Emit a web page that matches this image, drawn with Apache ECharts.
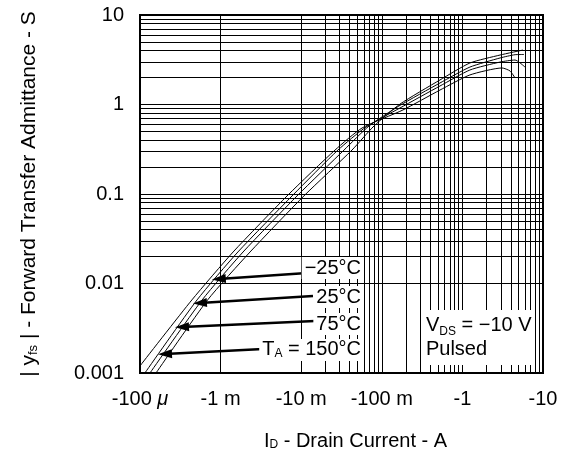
<!DOCTYPE html>
<html>
<head>
  <meta charset="UTF-8">
  <script src="https://cdn.jsdelivr.net/npm/echarts@6.0.0/dist/echarts.min.js"></script>
  <style>
    html, body { margin: 0; padding: 0; background: #fff; }
    #chart { width: 569px; height: 457px; }
  </style>
</head>
<body>
<div id="chart"></div>
<script type="text/javascript">
  var FONT = '"Liberation Sans", Arial, sans-serif';

  // axis tick labels (one per decade)
  var xTickLabels = ['-100 {mu|\u03bc}', '-1 m', '-10 m', '-100 m', '-1', '-10'];
  var yTickLabels = ['0.001', '0.01', '0.1', '1', '10'];

  // curves: |ID| (A) and |yfs| (S)
  var idM25   = [1.58e-4, 6.9e-4, 2.32e-3, 0.0111, 0.0427, 0.080, 0.168, 0.527, 1.24, 2.93, 5.65];
  var yfsM25  = [0.001, 0.00655, 0.0225, 0.0975, 0.31, 0.575, 1.01, 1.88, 2.91, 3.57, 4.06];
  var idP25   = [1.33e-4, 5.9e-4, 1.90e-3, 9.12e-3, 0.034, 0.0694, 0.163, 0.527, 1.24, 2.93, 4.5, 5.81];
  var yfsP25  = [0.001, 0.00655, 0.0225, 0.0975, 0.31, 0.575, 0.962, 1.74, 2.62, 3.31, 3.6, 3.62];
  var idP75   = [1.15e-4, 5.1e-4, 1.64e-3, 7.91e-3, 0.0286, 0.0637, 0.168, 0.527, 1.24, 2.93, 4.5, 5.98];
  var yfsP75  = [0.001, 0.00655, 0.0225, 0.0975, 0.31, 0.561, 0.914, 1.61, 2.43, 2.98, 3.14, 2.62];
  var idP150  = [1.0e-4, 4.4e-4, 1.43e-3, 6.86e-3, 0.0263, 0.0568, 0.183, 0.527, 1.24, 3.10, 3.9, 4.5];
  var yfsP150 = [0.0012, 0.00655, 0.0225, 0.0975, 0.31, 0.546, 0.869, 1.45, 2.14, 2.56, 2.37, 1.98];

  // annotations (data coordinates)
  var tempLabels = ['\u221225\u00b0C', '25\u00b0C', '75\u00b0C', 'T{s|A} = 150\u00b0C'];
  var tempLabelAt = [[0.0585, 0.0149], [0.0585, 0.00706], [0.0585, 0.00352], [0.0585, 0.00181]];
  var arrowFrom = [[0.0118, 0.0131], [0.014, 0.00724], [0.0148, 0.00381], [0.00336, 0.00185]];
  var arrowTo   = [[9.5e-4, 0.0112], [5.54e-4, 0.00605], [3.32e-4, 0.00327], [2.04e-4, 0.00163]];
  var condAt = [0.324, 0.00506];

  function pairs(xs, ys) {
    return xs.map(function (x, i) { return [x, ys[i]]; });
  }

  // minor log grid lines (2..9 in each decade)
  var minorX = [], minorY = [];
  for (var e = -4; e < 1; e++) for (var k = 2; k < 10; k++) minorX.push(k * Math.pow(10, e));
  for (var e2 = -3; e2 < 1; e2++) for (var k2 = 2; k2 < 10; k2++) minorY.push(k2 * Math.pow(10, e2));
  var gridLines = minorX.map(function (v) { return {xAxis: v}; })
    .concat(minorY.map(function (v) { return {yAxis: v}; }));

  var curveStyle = {color: '#000', width: 1};
  function curve(name, xs, ys) {
    return {
      name: name, type: 'line', data: pairs(xs, ys), smooth: 0.2,
      showSymbol: false, symbol: 'none', lineStyle: curveStyle, z: 5, silent: true
    };
  }

  var chart = echarts.init(document.getElementById('chart'));
  var option = {
    animation: false,
    grid: {left: 140, right: 26, top: 15, bottom: 84, show: true, borderColor: '#000', borderWidth: 2,
      containLabel: false, outerBoundsMode: 'none'},
    xAxis: {
      type: 'log', logBase: 10, min: 1e-4, max: 10,
      name: '{a|I}{s|D}{a| - Drain Current - A}', nameLocation: 'middle', nameGap: 58,
      nameTextStyle: {padding: [0, 0, 0, 28], rich: {
        a: {fontSize: 20, fontFamily: FONT, color: '#000'},
        s: {fontSize: 12, fontFamily: FONT, color: '#000', verticalAlign: 'bottom'}
      }},
      axisLine: {show: true, lineStyle: {color: '#000', width: 2}},
      axisTick: {show: false},
      splitLine: {show: true, lineStyle: {color: '#000', width: 1}},
      axisLabel: {
        margin: 16, fontSize: 20, fontFamily: FONT, color: '#000',
        formatter: function (v) { return xTickLabels[Math.round(Math.log10(v)) + 4]; },
        rich: {mu: {fontSize: 20, fontFamily: FONT, fontStyle: 'italic', color: '#000'}}
      }
    },
    yAxis: {
      type: 'log', logBase: 10, min: 0.001, max: 10,
      name: '| y{s|fs} | - Forward Transfer Admittance - S', nameLocation: 'middle', nameGap: 100,
      nameTextStyle: {fontSize: 21, fontFamily: FONT, color: '#000', rich: {
        s: {fontSize: 13, fontFamily: FONT, color: '#000', verticalAlign: 'bottom'}
      }},
      axisLine: {show: true, lineStyle: {color: '#000', width: 2}},
      axisTick: {show: false},
      splitLine: {show: true, lineStyle: {color: '#000', width: 1}},
      axisLabel: {
        margin: 16, fontSize: 20, fontFamily: FONT, color: '#000',
        formatter: function (v) { return yTickLabels[Math.round(Math.log10(v)) + 3]; }
      }
    },
    series: [
      {
        name: 'grid', type: 'line', data: [], silent: true, z: 1,
        markLine: {silent: true, symbol: 'none', animation: false, label: {show: false},
          lineStyle: {color: '#000', width: 1, type: 'solid'}, data: gridLines}
      },
      curve('-25', idM25, yfsM25),
      curve('25', idP25, yfsP25),
      curve('75', idP75, yfsP75),
      curve('150', idP150, yfsP150),
      {
        name: 'arrows', type: 'line', data: [], silent: true, z: 6,
        markLine: {silent: true, symbol: ['none', 'triangle'], symbolSize: [9, 14], animation: false,
          label: {show: false}, lineStyle: {color: '#000', width: 2.5, type: 'solid'},
          data: arrowFrom.map(function (p, i) { return [{coord: p}, {coord: arrowTo[i]}]; })}
      }
    ]
  };
  chart.setOption(option);

  // text labels placed from data coordinates
  var graphics = tempLabels.map(function (t, i) {
    var p = chart.convertToPixel({gridIndex: 0}, tempLabelAt[i]);
    return {
      type: 'text', x: p[0], y: p[1], z: 100, silent: true,
      style: {
        text: t, fontSize: 20, fontFamily: FONT, fill: '#000',
        align: 'right', verticalAlign: 'middle', backgroundColor: '#fff', padding: [1, 2, 1, 3],
        rich: {s: {fontSize: 12, fontFamily: FONT, fill: '#000', verticalAlign: 'bottom'}}
      }
    };
  });
  var c = chart.convertToPixel({gridIndex: 0}, condAt);
  graphics.push({
    type: 'text', x: c[0], y: c[1], z: 100, silent: true,
    style: {
      text: '{a|V}{s|DS}{a| = \u221210 V}\n{a|Pulsed}',
      fill: '#000', align: 'left', verticalAlign: 'top', backgroundColor: '#fff', padding: [4, 2, 3, 3],
      rich: {
        a: {fontSize: 20, fontFamily: FONT, fill: '#000', lineHeight: 24},
        s: {fontSize: 12, fontFamily: FONT, fill: '#000', verticalAlign: 'bottom', lineHeight: 24}
      }
    }
  });
  chart.setOption({graphic: graphics});
</script>
</body>
</html>
